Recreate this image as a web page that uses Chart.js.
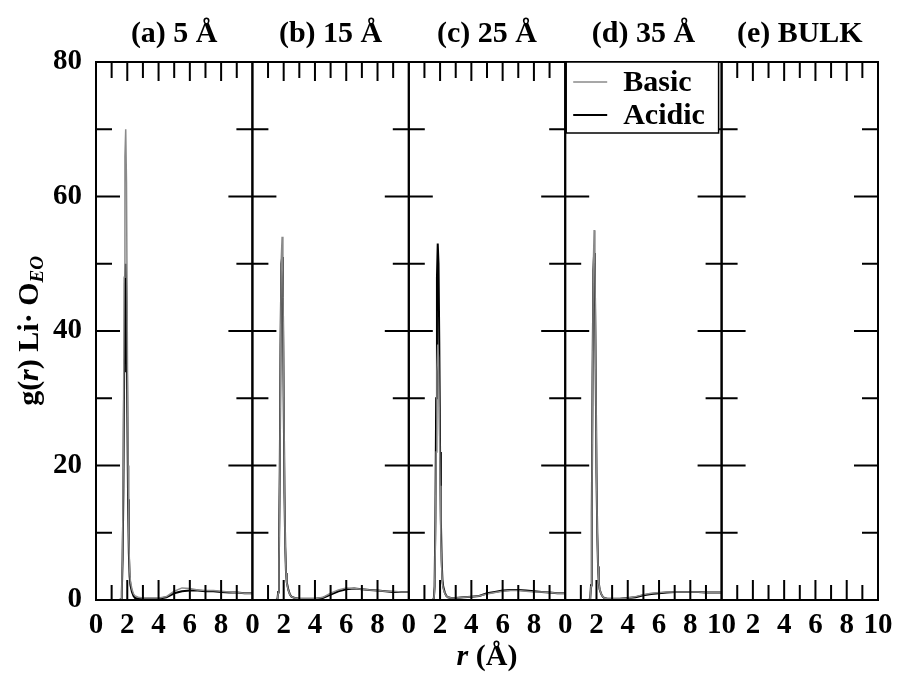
<!DOCTYPE html>
<html>
<head>
<meta charset="utf-8">
<script src="https://cdn.jsdelivr.net/npm/chart.js@4.4.1/dist/chart.umd.min.js"></script>
<style>
  html, body { margin: 0; padding: 0; background: #fff; }
  #chart { display: block; }
</style>
</head>
<body>
<canvas id="chart" width="898" height="676"></canvas>
<script>
// r (Å) sample points shared by every panel
const rValues = [0, 1.5, 1.6, 1.65, 1.7, 1.75, 1.8, 1.85, 1.9, 1.95, 2.0, 2.05, 2.1, 2.15, 2.2, 2.3, 2.4, 2.5,
                 2.7, 3.0, 3.5, 4.0, 4.5, 5.0, 5.5, 6.0, 6.5, 7.0, 7.5, 8.0, 8.5, 9.0, 9.5, 10.0];

// g(r) Li-O(EO)
const basicA  = [0, 0, 0.1, 1.5, 8, 22, 48, 66, 70, 62, 40, 20, 9, 4.5, 2.8, 1.6, 0.9, 0.6,
                 0.4, 0.3, 0.3, 0.3, 0.5, 1.3, 1.8, 1.7, 1.5, 1.4, 1.4, 1.3, 1.2, 1.1, 1.0, 1.0];
const acidicA = [0, 0, 0.1, 1.2, 6, 16, 34, 47, 50, 44, 29, 15, 7, 3.5, 2.2, 1.2, 0.6, 0.3,
                 0.2, 0.2, 0.2, 0.2, 0.4, 1.0, 1.3, 1.4, 1.4, 1.3, 1.3, 1.2, 1.1, 1.1, 1.0, 1.0];
const basicB  = [0, 0, 0.1, 1, 6, 17, 37, 51, 54, 48, 32, 17, 8, 4, 2.5, 1.4, 0.8, 0.5,
                 0.3, 0.2, 0.2, 0.2, 0.4, 1.0, 1.5, 1.8, 1.7, 1.6, 1.5, 1.4, 1.3, 1.3, 1.2, 1.2];
const acidicB = [0, 0, 0.1, 1.2, 7, 19, 38, 50, 51, 45, 30, 16, 8, 4, 2.6, 1.5, 0.8, 0.5,
                 0.3, 0.2, 0.2, 0.2, 0.3, 0.8, 1.3, 1.6, 1.7, 1.6, 1.5, 1.4, 1.3, 1.2, 1.2, 1.2];
const basicC  = [0, 0, 0.1, 1.5, 9, 22, 34, 38, 36, 28, 17, 9, 5, 2.5, 1.7, 1.0, 0.6, 0.4,
                 0.3, 0.3, 0.4, 0.5, 0.6, 0.9, 1.1, 1.3, 1.4, 1.4, 1.3, 1.2, 1.2, 1.1, 1.0, 1.0];
const acidicC = [0, 0, 0.2, 2, 12, 30, 48, 53, 50, 38, 22, 12, 6, 3, 2, 1.1, 0.6, 0.4,
                 0.3, 0.3, 0.4, 0.5, 0.6, 1.0, 1.2, 1.4, 1.5, 1.5, 1.4, 1.3, 1.2, 1.1, 1.0, 1.0];
const basicD  = [0, 0, 0.2, 2, 12, 32, 50, 55, 50, 36, 20, 10, 5, 2.5, 1.6, 0.9, 0.5, 0.3,
                 0.2, 0.2, 0.2, 0.3, 0.5, 0.8, 1.0, 1.1, 1.2, 1.2, 1.2, 1.2, 1.2, 1.1, 1.1, 1.1];
const acidicD = [0, 0, 0.2, 2.2, 13, 33, 49, 51.6, 47, 34, 19, 10, 5, 2.5, 1.6, 0.9, 0.5, 0.3,
                 0.2, 0.2, 0.2, 0.3, 0.4, 0.7, 0.9, 1.0, 1.1, 1.2, 1.2, 1.2, 1.2, 1.1, 1.1, 1.1];

const panelIds = ['xa', 'xb', 'xc', 'xd', 'xe'];
const panelTitles = ['(a) 5 Å', '(b) 15 Å', '(c) 25 Å', '(d) 35 Å', '(e) BULK'];
const seriesNames = ['Basic', 'Acidic'];
const seriesColors = ['#8a8a8a', '#000000'];
const seriesWidths = [1.5, 2];

// which x labels each panel prints (neighbouring panels overlap at the seams)
const xLabelsShown = [[0, 2, 4, 6, 8], [0, 2, 4, 6, 8], [0, 2, 4, 6, 8], [0, 2, 4, 6, 8, 10], [2, 4, 6, 8, 10]];
const xMarkMajor = [2, 4, 6, 8];
const xMarkMinor = [1, 3, 5, 7, 9];
const yMarkMajor = [20, 40, 60];
const yMarkMinor = [10, 30, 50, 70];

const SERIF = '"Liberation Serif", "Times New Roman", serif';

function toPoints(ys) {
    return rValues.map((r, i) => ({ x: r, y: ys[i] }));
}

function makeSet(name, ys, panel) {
    const k = seriesNames.indexOf(name);
    return {
        label: name,
        data: toPoints(ys),
        xAxisID: panel,
        yAxisID: 'y',
        borderColor: seriesColors[k],
        borderWidth: seriesWidths[k],
        pointRadius: 0,
        tension: 0,
        fill: false
    };
}

// Basic first so it is painted on top of Acidic
const datasets = [
    makeSet('Basic', basicA, 'xa'), makeSet('Acidic', acidicA, 'xa'),
    makeSet('Basic', basicB, 'xb'), makeSet('Acidic', acidicB, 'xb'),
    makeSet('Basic', basicC, 'xc'), makeSet('Acidic', acidicC, 'xc'),
    makeSet('Basic', basicD, 'xd'), makeSet('Acidic', acidicD, 'xd')
];

const scales = {
    y: {
        position: 'left',
        min: 0,
        max: 80,
        ticks: { stepSize: 20, padding: 6, color: '#000', font: { family: SERIF, size: 29, weight: 'bold' } },
        grid: { display: false },
        border: { display: false },
        afterFit: (s) => { s.width = 96; }
    }
};
panelIds.forEach((id, p) => {
    scales[id] = {
        type: 'linear',
        position: 'bottom',
        stack: 'panels',
        stackWeight: 1,
        min: 0,
        max: 10,
        ticks: {
            stepSize: 2,
            padding: 3,
            maxRotation: 0,
            autoSkip: false,
            color: '#000',
            font: { family: SERIF, size: 29, weight: 'bold' },
            callback: (v) => xLabelsShown[p].includes(v) ? String(v) : ''
        },
        grid: { display: true, drawOnChartArea: false, drawTicks: true, tickLength: 5, color: 'rgba(0,0,0,0)' },
        border: { display: false },
        afterFit: (s) => { s.height = 76; }
    };
});

// frames, inward tick marks, legend box, titles
const framePlugin = {
    id: 'framePlugin',
    afterDatasetsDraw(chart) {
        const ctx = chart.ctx;
        const area = chart.chartArea;
        const yS = chart.scales.y;
        ctx.save();
        ctx.strokeStyle = '#000';
        ctx.lineCap = 'butt';

        panelIds.forEach((id) => {
            const xs = chart.scales[id];
            const L = xs.getPixelForValue(0), R = xs.getPixelForValue(10);
            ctx.lineWidth = 2;
            ctx.strokeRect(L, area.top, R - L, area.bottom - area.top);

            ctx.beginPath();
            xMarkMajor.forEach(v => {
                const px = xs.getPixelForValue(v);
                ctx.moveTo(px, area.bottom); ctx.lineTo(px, area.bottom - 20);
                ctx.moveTo(px, area.top); ctx.lineTo(px, area.top + 19);
            });
            xMarkMinor.forEach(v => {
                const px = xs.getPixelForValue(v);
                ctx.moveTo(px, area.bottom); ctx.lineTo(px, area.bottom - 15);
                ctx.moveTo(px, area.top); ctx.lineTo(px, area.top + 16);
            });
            yMarkMajor.forEach(v => {
                const py = yS.getPixelForValue(v);
                ctx.moveTo(L, py); ctx.lineTo(L + 24, py);
                ctx.moveTo(R, py); ctx.lineTo(R - 24, py);
            });
            yMarkMinor.forEach(v => {
                const py = yS.getPixelForValue(v);
                ctx.moveTo(L, py); ctx.lineTo(L + 16, py);
                ctx.moveTo(R, py); ctx.lineTo(R - 16, py);
            });
            ctx.lineWidth = 2;
            ctx.stroke();
        });

        // legend in panel (d)
        const xd = chart.scales.xd;
        const bx = xd.getPixelForValue(0) + 1, by = area.top;
        const bw = xd.getPixelForValue(10) - bx - 3, bh = 71;
        ctx.fillStyle = '#fff';
        ctx.fillRect(bx, by, bw, bh);
        ctx.lineWidth = 1.5;
        ctx.strokeRect(bx, by, bw, bh);
        ctx.font = 'bold 30px ' + SERIF;
        ctx.textAlign = 'left';
        ctx.textBaseline = 'middle';
        seriesNames.forEach((name, k) => {
            const ly = by + 20 + k * 33;
            ctx.beginPath();
            ctx.strokeStyle = seriesColors[k];
            ctx.lineWidth = seriesWidths[k];
            ctx.moveTo(bx + 7, ly); ctx.lineTo(bx + 41, ly);
            ctx.stroke();
            ctx.fillStyle = '#000';
            ctx.fillText(name, bx + 57, ly + 1);
        });
        ctx.restore();
    },
    afterDraw(chart) {
        const ctx = chart.ctx;
        const area = chart.chartArea;
        ctx.save();
        ctx.fillStyle = '#000';
        ctx.textBaseline = 'middle';
        ctx.textAlign = 'center';

        // panel titles
        ctx.font = 'bold 30px ' + SERIF;
        panelIds.forEach((id, p) => {
            const xs = chart.scales[id];
            ctx.fillText(panelTitles[p], (xs.getPixelForValue(0) + xs.getPixelForValue(10)) / 2, 34);
        });

        // x axis title: r (Å)
        const cx = (area.left + area.right) / 2;
        const it = 'italic bold 30px ' + SERIF, bd = 'bold 30px ' + SERIF;
        ctx.font = it; const w1 = ctx.measureText('r ').width;
        ctx.font = bd; const w2 = ctx.measureText('(Å)').width;
        let x0 = cx - (w1 + w2) / 2;
        ctx.textAlign = 'left';
        ctx.font = it; ctx.fillText('r ', x0, 657);
        ctx.font = bd; ctx.fillText('(Å)', x0 + w1, 657);

        // y axis title: g(r) Li· O_EO
        ctx.translate(30, (area.top + area.bottom) / 2);
        ctx.rotate(-Math.PI / 2);
        const parts = [
            { t: 'g(', f: 'bold 30px ' + SERIF, dy: 0 },
            { t: 'r', f: 'italic bold 30px ' + SERIF, dy: 0 },
            { t: ') Li· O', f: 'bold 30px ' + SERIF, dy: 0 },
            { t: 'EO', f: 'italic bold 19px ' + SERIF, dy: 8 }
        ];
        let tw = 0;
        parts.forEach(pt => { ctx.font = pt.f; pt.w = ctx.measureText(pt.t).width; tw += pt.w; });
        let px = -tw / 2;
        parts.forEach(pt => { ctx.font = pt.f; ctx.fillText(pt.t, px, pt.dy); px += pt.w; });
        ctx.restore();
    }
};

new Chart(document.getElementById('chart'), {
    type: 'line',
    data: { datasets: datasets },
    options: {
        responsive: false,
        animation: false,
        devicePixelRatio: 1,
        layout: { padding: { top: 62, right: 20, left: 0, bottom: 0 } },
        plugins: { legend: { display: false }, tooltip: { enabled: false }, title: { display: false } },
        scales: scales
    },
    plugins: [framePlugin]
});
</script>
</body>
</html>
